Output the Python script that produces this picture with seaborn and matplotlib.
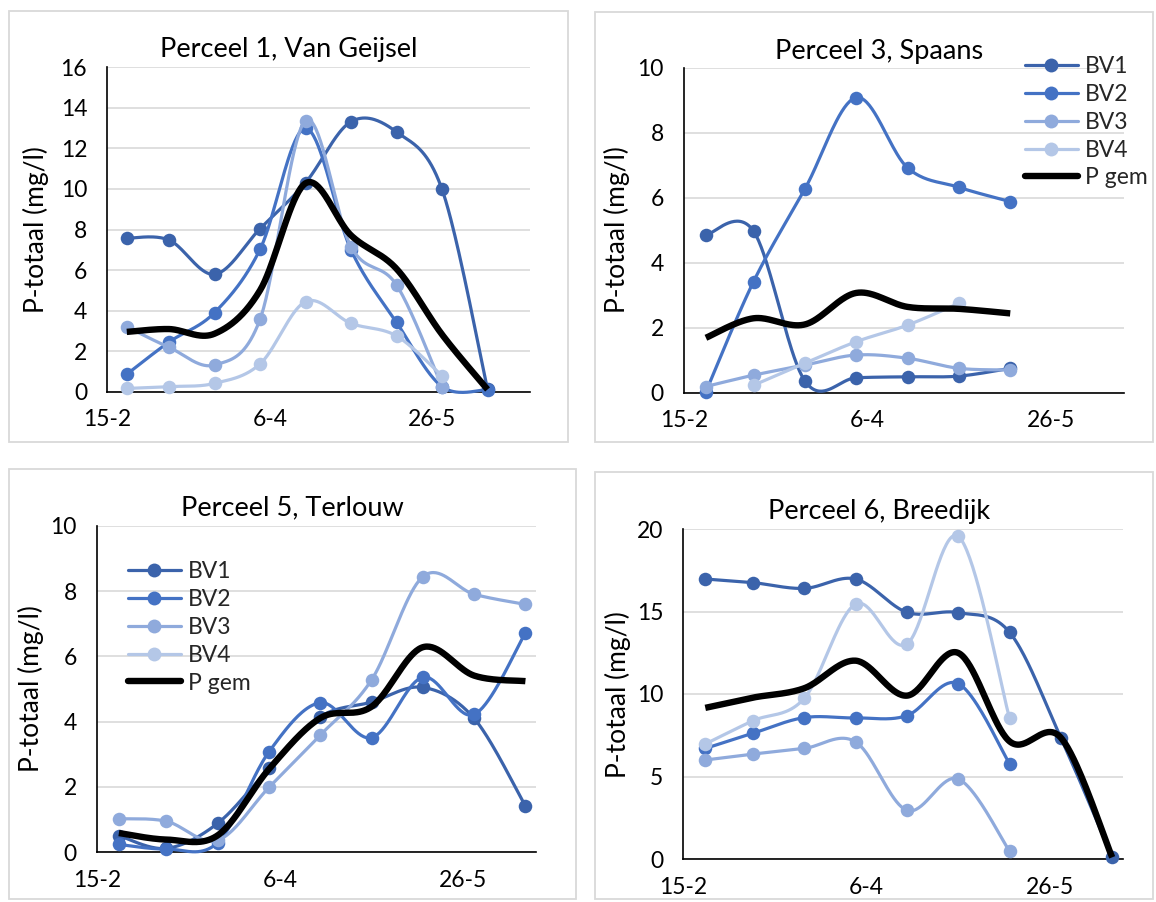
import numpy as np
import pandas as pd
import matplotlib
matplotlib.use("Agg")
import matplotlib.pyplot as plt
import matplotlib.dates as mdates
from matplotlib.lines import Line2D
from matplotlib.patches import Rectangle
import seaborn as sns

# ---- data -------------------------------------------------------------
sample_dates = ["2019-02-21", "2019-03-06", "2019-03-20", "2019-04-03", "2019-04-17",
                "2019-05-01", "2019-05-15", "2019-05-29", "2019-06-12"]
axis_start = "2019-02-15"
tick_dates = ["2019-02-15", "2019-04-06", "2019-05-26"]
series_names = ["BV1", "BV2", "BV3", "BV4", "P gem"]
nan = np.nan

# Perceel 1, Van Geijsel
p1_bv1 = [7.57, 7.48, 5.79, 8.04, 10.31, 13.32, 12.81, 9.98, 0.12]
p1_bv2 = [0.86, 2.45, 3.90, 7.02, 12.99, 6.99, 3.42, 0.25, 0.10]
p1_bv3 = [3.20, 2.19, 1.32, 3.57, 13.37, 7.15, 5.26, 0.25, nan]
p1_bv4 = [0.16, 0.25, 0.41, 1.37, 4.44, 3.37, 2.75, 0.78, nan]
p1_gem = [2.95, 3.09, 2.86, 5.00, 10.28, 7.71, 6.06, 2.82, 0.11]

# Perceel 3, Spaans
p3_bv1 = [4.85, 4.97, 0.36, 0.46, 0.49, 0.51, 0.75, nan, nan]
p3_bv2 = [0.03, 3.42, 6.27, 9.08, 6.92, 6.32, 5.88, nan, nan]
p3_bv3 = [0.19, 0.54, 0.85, 1.16, 1.06, 0.75, 0.70, nan, nan]
p3_bv4 = [nan, 0.23, 0.91, 1.57, 2.08, 2.75, nan, nan, nan]
p3_gem = [1.69, 2.29, 2.10, 3.07, 2.64, 2.58, 2.44, nan, nan]

# Perceel 5, Terlouw
p5_bv1 = [0.51, 0.12, 0.89, 2.57, 4.15, 4.60, 5.05, 4.10, 1.42]
p5_bv2 = [0.24, 0.10, 0.30, 3.08, 4.58, 3.51, 5.36, 4.22, 6.72]
p5_bv3 = [1.03, 0.95, 0.37, 1.99, 3.59, 5.28, 8.44, 7.90, 7.59]
p5_bv4 = [nan, nan, nan, nan, nan, nan, nan, nan, nan]
p5_gem = [0.59, 0.39, 0.52, 2.55, 4.11, 4.46, 6.28, 5.41, 5.24]

# Perceel 6, Breedijk
p6_bv1 = [16.97, 16.75, 16.40, 16.97, 14.95, 14.93, 13.74, 7.35, 0.10]
p6_bv2 = [6.70, 7.62, 8.57, 8.55, 8.69, 10.63, 5.78, nan, nan]
p6_bv3 = [6.00, 6.36, 6.70, 7.10, 2.95, 4.85, 0.48, nan, nan]
p6_bv4 = [6.97, 8.38, 9.74, 15.45, 13.03, 19.56, 8.53, nan, nan]
p6_gem = [9.16, 9.78, 10.35, 12.02, 9.90, 12.49, 7.13, 7.35, 0.10]

titles = ["Perceel 1, Van Geijsel", "Perceel 3, Spaans",
          "Perceel 5, Terlouw", "Perceel 6, Breedijk"]
axis_ends = ["2019-06-25", "2019-06-15", "2019-06-15", "2019-06-15"]
y_max = [16, 10, 10, 20]
y_step = [2, 2, 2, 5]
y_label = "P-totaal (mg/l)"

# ---- style ------------------------------------------------------------
sns.set_style("white")
plt.rcParams["font.family"] = ["Lato", "DejaVu Sans"]

colors = ["#3B63AB", "#4472C4", "#8FAADC", "#B4C7E7", "#000000"]
line_w = [2.3, 2.3, 2.3, 2.3, 4.6]

W, H = 1156, 902
fig = plt.figure(figsize=(W / 100, H / 100), dpi=100)


def fx(px):
    return px / W


def fy(py):
    return 1 - py / H


def excel_smooth(x, y, n=40):
    """Bezier smoothing through every point, control arms = 1/6 of neighbour chord."""
    pts = np.column_stack([x, y])
    m = len(pts)
    if m < 3:
        return pts
    segs = []
    t = np.linspace(0, 1, n)[:, None]
    for i in range(m - 1):
        p0 = pts[i - 1] if i > 0 else pts[i]
        p1, p2 = pts[i], pts[i + 1]
        p3 = pts[i + 2] if i + 2 < m else pts[i + 1]
        c1 = p1 + (p2 - p0) / 6
        c2 = p2 - (p3 - p1) / 6
        seg = (1 - t) ** 3 * p1 + 3 * (1 - t) ** 2 * t * c1 + 3 * (1 - t) * t ** 2 * c2 + t ** 3 * p2
        segs.append(seg if i == 0 else seg[1:])
    return np.vstack(segs)


panels = [
    dict(series=[p1_bv1, p1_bv2, p1_bv3, p1_bv4, p1_gem],
         axes_px=(107.3, 67.3, 529.8, 391.7), box_px=(9, 11, 568, 441.5),
         title_xy=(289, 50), ylabel_xy=(36, 230), legend=None),
    dict(series=[p3_bv1, p3_bv2, p3_bv3, p3_bv4, p3_gem],
         axes_px=(683.9, 67.7, 1123.9, 392.7), box_px=(595, 12, 1153, 442),
         title_xy=(879, 52), ylabel_xy=(617, 230), legend=(1025, 56)),
    dict(series=[p5_bv1, p5_bv2, p5_bv3, p5_bv4, p5_gem],
         axes_px=(96.9, 525.7, 536.4, 852.3), box_px=(9, 468.7, 575.7, 899),
         title_xy=(292, 508), ylabel_xy=(31, 689), legend=(128, 561)),
    dict(series=[p6_bv1, p6_bv2, p6_bv3, p6_bv4, p6_gem],
         axes_px=(683.3, 529, 1123.2, 859), box_px=(595, 472, 1153, 899),
         title_xy=(879, 512), ylabel_xy=(618, 695), legend=None),
]

x_num = mdates.date2num(pd.to_datetime(sample_dates))
tick_num = mdates.date2num(pd.to_datetime(tick_dates))
x_start = mdates.date2num(pd.Timestamp(axis_start))

for k, p in enumerate(panels):
    bx0, by0, bx1, by1 = p["box_px"]
    fig.patches.append(Rectangle((fx(bx0), fy(by1)), fx(bx1 - bx0), (by1 - by0) / H,
                                 transform=fig.transFigure, fill=False,
                                 edgecolor="#D9D9D9", linewidth=1.3, zorder=0))

    x0, y0, x1, y1 = p["axes_px"]
    ax = fig.add_axes([fx(x0), fy(y1), fx(x1 - x0), (y1 - y0) / H])
    ax.set_facecolor("none")

    for j, vals in enumerate(p["series"]):
        v = np.asarray(vals, dtype=float)
        ok = ~np.isnan(v)
        if not ok.any():
            continue
        curve = excel_smooth(x_num[ok], v[ok])
        sns.lineplot(x=curve[:, 0], y=curve[:, 1], sort=False, estimator=None,
                     color=colors[j], linewidth=line_w[j], ax=ax,
                     zorder=3 + 2 * j, clip_on=False, solid_capstyle="butt")
        if j < 4:
            sns.scatterplot(x=x_num[ok], y=v[ok], color=colors[j], s=95,
                            linewidth=0, ax=ax, zorder=4 + 2 * j, clip_on=False)

    ax.set_xlim(x_start, mdates.date2num(pd.Timestamp(axis_ends[k])))
    ax.set_ylim(0, y_max[k])
    ax.set_xticks(tick_num)
    ax.xaxis.set_major_formatter(mdates.DateFormatter("%-d-%-m"))
    ax.set_yticks(np.arange(0, y_max[k] + 0.1, y_step[k]))
    ax.yaxis.grid(True, color="#D9D9D9", linewidth=1.2)
    ax.xaxis.grid(False)
    ax.set_axisbelow(True)
    for side in ("top", "right"):
        ax.spines[side].set_visible(False)
    for side in ("left", "bottom"):
        ax.spines[side].set_color("black")
        ax.spines[side].set_linewidth(1.2)
    ax.tick_params(axis="y", direction="out", length=5.5, width=1.2, color="black",
                   labelsize=16.5, pad=9, labelcolor="black")
    ax.tick_params(axis="x", direction="out", length=4.8, width=1.2, color="black",
                   labelsize=16.5, pad=8, labelcolor="black")
    ax.set_xlabel("")
    ax.set_ylabel("")

    tx, ty = p["title_xy"]
    fig.text(fx(tx), fy(ty), titles[k], ha="center", va="center", fontsize=19.5,
             color="black")
    lx, ly = p["ylabel_xy"]
    fig.text(fx(lx), fy(ly), y_label, ha="center", va="center", rotation=90,
             fontsize=19, color="black")

    if p["legend"] is not None:
        handles = []
        for j, name in enumerate(series_names):
            handles.append(Line2D([], [], color=colors[j], linewidth=line_w[j],
                                  marker="o" if j < 4 else None, markersize=10,
                                  markeredgewidth=0))
        lgx, lgy = p["legend"]
        fig.legend(handles, series_names, loc="upper left",
                   bbox_to_anchor=(fx(lgx), fy(lgy)), frameon=False,
                   fontsize=16.5, handlelength=2.3, handletextpad=0.3,
                   labelspacing=0.3, borderpad=0, borderaxespad=0, numpoints=1)

fig.savefig("out.png", dpi=100)
